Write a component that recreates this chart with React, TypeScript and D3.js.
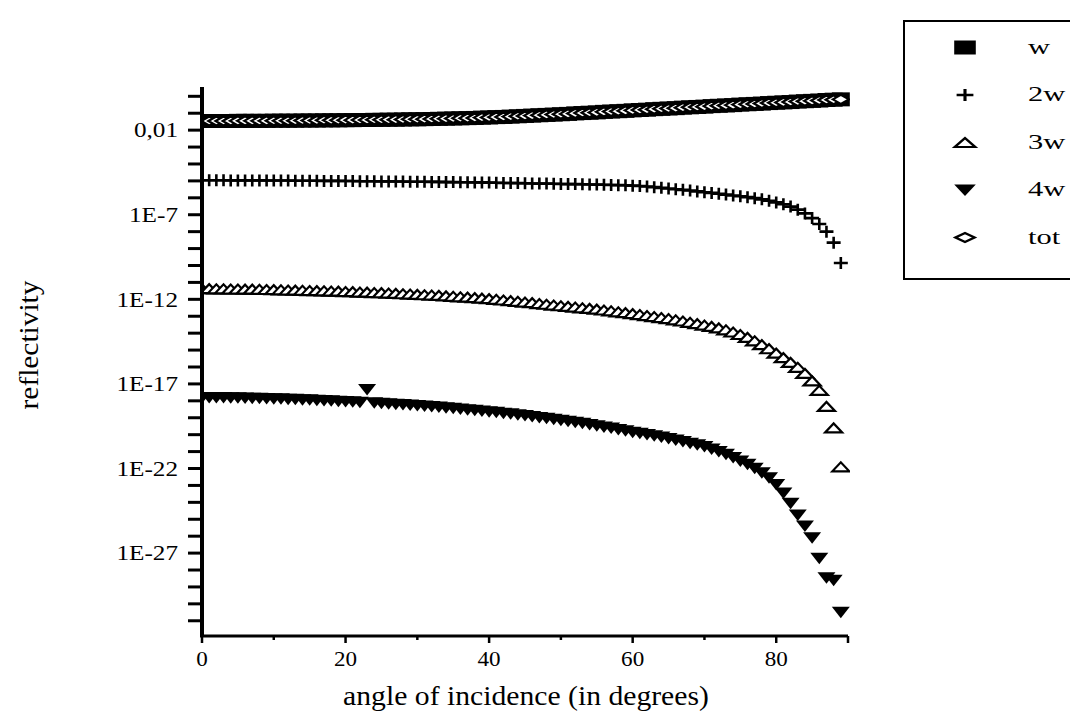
// Reflectivity vs. angle of incidence - log-scale scatter of harmonic orders

import { useEffect, useRef } from "react";
import * as d3 from "d3";

// angles (degrees)
const angles = [
  0, 1, 2, 3, 4, 5, 6, 7, 8, 9, 10, 11, 12, 13, 14, 15, 16, 17, 18, 19,
  20, 21, 22, 23, 24, 25, 26, 27, 28, 29, 30, 31, 32, 33, 34, 35, 36, 37, 38, 39,
  40, 41, 42, 43, 44, 45, 46, 47, 48, 49, 50, 51, 52, 53, 54, 55, 56, 57, 58, 59,
  60, 61, 62, 63, 64, 65, 66, 67, 68, 69, 70, 71, 72, 73, 74, 75, 76, 77, 78, 79,
  80, 81, 82, 83, 84, 85, 86, 87, 88, 89,
];

// log10 of reflectivity
const wLog = [
  -1.46, -1.46, -1.46, -1.46, -1.46, -1.45, -1.45, -1.45, -1.45, -1.45,
  -1.44, -1.44, -1.44, -1.44, -1.43, -1.43, -1.43, -1.42, -1.42, -1.42,
  -1.41, -1.41, -1.4, -1.4, -1.39, -1.39, -1.38, -1.38, -1.37, -1.36,
  -1.36, -1.35, -1.34, -1.33, -1.32, -1.31, -1.3, -1.29, -1.28, -1.26,
  -1.25, -1.23, -1.22, -1.2, -1.18, -1.16, -1.14, -1.12, -1.1, -1.08,
  -1.06, -1.04, -1.01, -0.99, -0.97, -0.95, -0.92, -0.9, -0.88, -0.86,
  -0.83, -0.81, -0.79, -0.76, -0.74, -0.72, -0.7, -0.67, -0.65, -0.63,
  -0.61, -0.58, -0.56, -0.54, -0.52, -0.49, -0.47, -0.45, -0.43, -0.4,
  -0.38, -0.36, -0.34, -0.31, -0.29, -0.27, -0.25, -0.22, -0.2, -0.18,
];

const w2Log = [
  -4.96, -4.96, -4.96, -4.96, -4.97, -4.97, -4.97, -4.97, -4.97, -4.98,
  -4.98, -4.98, -4.98, -4.99, -4.99, -4.99, -4.99, -5.0, -5.0, -5.0,
  -5.01, -5.01, -5.02, -5.02, -5.02, -5.03, -5.03, -5.04, -5.04, -5.05,
  -5.05, -5.05, -5.06, -5.06, -5.07, -5.07, -5.08, -5.08, -5.09, -5.09,
  -5.1, -5.11, -5.12, -5.12, -5.13, -5.14, -5.15, -5.16, -5.16, -5.17,
  -5.18, -5.19, -5.19, -5.2, -5.21, -5.22, -5.23, -5.24, -5.25, -5.26,
  -5.28, -5.3, -5.33, -5.37, -5.41, -5.45, -5.49, -5.53, -5.57, -5.62,
  -5.67, -5.71, -5.76, -5.81, -5.86, -5.91, -5.96, -6.02, -6.09, -6.17,
  -6.27, -6.38, -6.52, -6.7, -6.92, -7.2, -7.55, -8.0, -8.65, -9.85,
];

const w3Log = [
  -11.37, -11.37, -11.38, -11.38, -11.39, -11.39, -11.4, -11.4, -11.41, -11.42,
  -11.43, -11.44, -11.45, -11.46, -11.47, -11.48, -11.49, -11.5, -11.51, -11.52,
  -11.54, -11.55, -11.57, -11.58, -11.6, -11.61, -11.63, -11.65, -11.67, -11.69,
  -11.71, -11.73, -11.75, -11.77, -11.8, -11.82, -11.85, -11.87, -11.9, -11.93,
  -11.96, -12.0, -12.04, -12.08, -12.12, -12.16, -12.2, -12.25, -12.29, -12.34,
  -12.38, -12.42, -12.46, -12.5, -12.54, -12.58, -12.63, -12.68, -12.74, -12.79,
  -12.85, -12.9, -12.96, -13.02, -13.08, -13.14, -13.21, -13.28, -13.36, -13.44,
  -13.52, -13.6, -13.69, -13.8, -13.93, -14.08, -14.25, -14.45, -14.68, -14.92,
  -15.18, -15.45, -15.73, -16.02, -16.38, -16.82, -17.38, -18.33, -19.6, -21.9,
];

const w4Log = [
  -17.8, -17.8, -17.81, -17.81, -17.82, -17.82, -17.83, -17.84, -17.85, -17.86,
  -17.87, -17.88, -17.9, -17.91, -17.93, -17.94, -17.96, -17.98, -18.0, -18.02,
  -18.04, -18.06, -18.08, -17.33, -18.12, -18.15, -18.17, -18.2, -18.22, -18.25,
  -18.28, -18.31, -18.34, -18.37, -18.41, -18.44, -18.48, -18.52, -18.56, -18.6,
  -18.64, -18.68, -18.73, -18.77, -18.82, -18.87, -18.92, -18.98, -19.03, -19.09,
  -19.15, -19.21, -19.27, -19.33, -19.4, -19.47, -19.54, -19.61, -19.69, -19.77,
  -19.85, -19.92, -19.99, -20.06, -20.14, -20.22, -20.31, -20.4, -20.5, -20.6,
  -20.7, -20.85, -21.0, -21.15, -21.35, -21.55, -21.75, -21.98, -22.25, -22.55,
  -22.95, -23.45, -24.05, -24.75, -25.4, -26.1, -27.3, -28.45, -28.6, -30.5,
];

const totLog = [
  -1.46, -1.46, -1.46, -1.46, -1.46, -1.45, -1.45, -1.45, -1.45, -1.45,
  -1.44, -1.44, -1.44, -1.44, -1.43, -1.43, -1.43, -1.42, -1.42, -1.42,
  -1.41, -1.41, -1.4, -1.4, -1.39, -1.39, -1.38, -1.38, -1.37, -1.36,
  -1.36, -1.35, -1.34, -1.33, -1.32, -1.31, -1.3, -1.29, -1.28, -1.26,
  -1.25, -1.23, -1.22, -1.2, -1.18, -1.16, -1.14, -1.12, -1.1, -1.08,
  -1.06, -1.04, -1.01, -0.99, -0.97, -0.95, -0.92, -0.9, -0.88, -0.86,
  -0.83, -0.81, -0.79, -0.76, -0.74, -0.72, -0.7, -0.67, -0.65, -0.63,
  -0.61, -0.58, -0.56, -0.54, -0.52, -0.49, -0.47, -0.45, -0.43, -0.4,
  -0.38, -0.36, -0.34, -0.31, -0.29, -0.27, -0.25, -0.22, -0.2, -0.18,
];

const xTickValues = [0, 10, 20, 30, 40, 50, 60, 70, 80, 90];
const xTickLabels = ["0", "20", "40", "60", "80"];
const yTickValues = [1e-2, 1e-7, 1e-12, 1e-17, 1e-22, 1e-27];
const yTickLabels = ["0,01", "1E-7", "1E-12", "1E-17", "1E-22", "1E-27"];
const legendLabels = ["w", "2w", "3w", "4w", "tot"];

type Shape = "square" | "plus" | "triUp" | "triDown" | "diamond";

// marker outline centred on 0,0
function markerPath(shape: Shape): string {
  switch (shape) {
    case "square":
      return "M-9,-7H9V7H-9Z";
    case "plus":
      return "M-7,0H7M0,-6V6";
    case "triUp":
      return "M-8.5,4.5L8.5,4.5L0,-4.5Z";
    case "triDown":
      return "M-9,-5.5L9,-5.5L0,6Z";
    case "diamond":
      return "M-8,0L0,-4.5L8,0L0,4.5Z";
  }
}

function styleMarker(sel: any, shape: Shape) {
  if (shape === "square" || shape === "triDown") {
    sel.attr("fill", "#000").attr("stroke", "none");
  } else if (shape === "plus") {
    sel.attr("fill", "none").attr("stroke", "#000").attr("stroke-width", 2.6);
  } else {
    sel.attr("fill", "#fff").attr("stroke", "#000").attr("stroke-width", 2.2);
  }
}

const FONT = "'Liberation Serif', 'Times New Roman', serif";

export default function App() {
  const svgRef = useRef<SVGSVGElement>(null);

  useEffect(() => {
    if (!svgRef.current) return;
    const svg = d3.select(svgRef.current);
    svg.selectAll("*").remove();

    const left = 202;
    const right = 848;
    const top = 87;
    const bottom = 636;

    const x = d3.scaleLinear().domain([0, 90]).range([left, right]);
    const y = d3
      .scaleLog()
      .domain([Math.pow(10, -31.9), Math.pow(10, 0.55)])
      .range([bottom, top]);

    const series: { name: string; values: number[]; shape: Shape }[] = [
      { name: "w", values: wLog, shape: "square" },
      { name: "2w", values: w2Log, shape: "plus" },
      { name: "3w", values: w3Log, shape: "triUp" },
      { name: "4w", values: w4Log, shape: "triDown" },
      { name: "tot", values: totLog, shape: "diamond" },
    ];

    // clip to plot area
    svg
      .append("defs")
      .append("clipPath")
      .attr("id", "plot-clip")
      .append("rect")
      .attr("x", left + 2)
      .attr("y", top - 10)
      .attr("width", right - left)
      .attr("height", bottom - top + 10);

    const plot = svg.append("g").attr("clip-path", "url(#plot-clip)");

    series.forEach((s) => {
      const pts = angles.map((a, i) => [a, Math.pow(10, s.values[i])]);
      const marks = plot
        .append("g")
        .selectAll("path")
        .data(pts)
        .join("path")
        .attr("transform", (d) => `translate(${x(d[0])},${y(d[1])})`)
        .attr("d", markerPath(s.shape));
      styleMarker(marks, s.shape);
    });

    // Y axis
    const yAxis = svg.append("g");
    d3.range(-31, 1).forEach((k) => {
      yAxis
        .append("line")
        .attr("x1", left - 14)
        .attr("x2", left)
        .attr("y1", y(Math.pow(10, k)))
        .attr("y2", y(Math.pow(10, k)))
        .attr("stroke", "#000")
        .attr("stroke-width", 3);
    });
    yAxis
      .append("line")
      .attr("x1", left)
      .attr("x2", left)
      .attr("y1", top)
      .attr("y2", bottom)
      .attr("stroke", "#000")
      .attr("stroke-width", 4);
    yTickValues.forEach((v, i) => {
      yAxis
        .append("text")
        .attr("transform", `translate(178,${y(v)}) scale(1.2,1)`)
        .attr("dy", "0.35em")
        .attr("text-anchor", "end")
        .style("font-family", FONT)
        .style("font-size", "21px")
        .text(yTickLabels[i]);
    });

    // X axis
    const xAxis = svg.append("g");
    xAxis
      .append("line")
      .attr("x1", left - 2)
      .attr("x2", right)
      .attr("y1", bottom)
      .attr("y2", bottom)
      .attr("stroke", "#000")
      .attr("stroke-width", 3);
    xTickValues.forEach((v) => {
      const major = v % 20 === 0 || v === 90;
      xAxis
        .append("line")
        .attr("x1", x(v))
        .attr("x2", x(v))
        .attr("y1", bottom)
        .attr("y2", bottom + (major ? 7 : 4))
        .attr("stroke", "#000")
        .attr("stroke-width", 2.5);
    });
    xTickLabels.forEach((lbl) => {
      xAxis
        .append("text")
        .attr("transform", `translate(${x(+lbl)},666) scale(1.1,1)`)
        .attr("text-anchor", "middle")
        .style("font-family", FONT)
        .style("font-size", "21px")
        .text(lbl);
    });

    // axis titles
    svg
      .append("text")
      .attr("transform", "translate(526,705) scale(1.06,1)")
      .attr("text-anchor", "middle")
      .style("font-family", FONT)
      .style("font-size", "28px")
      .text("angle of incidence (in degrees)");
    svg
      .append("text")
      .attr("transform", "translate(38,345) rotate(-90) scale(1.05,1)")
      .attr("text-anchor", "middle")
      .style("font-family", FONT)
      .style("font-size", "28px")
      .text("reflectivity");

    // legend
    const legend = svg.append("g");
    legend
      .append("rect")
      .attr("x", 904)
      .attr("y", 21)
      .attr("width", 200)
      .attr("height", 258)
      .attr("fill", "none")
      .attr("stroke", "#000")
      .attr("stroke-width", 2);
    const legendShapes: Shape[] = ["square", "plus", "triUp", "triDown", "diamond"];
    legendLabels.forEach((lbl, i) => {
      const base = 53.5 + i * 47.5;
      const m = legend
        .append("path")
        .attr("transform", `translate(965,${base - 6}) scale(1.2,1)`)
        .attr("d", markerPath(legendShapes[i]));
      styleMarker(m, legendShapes[i]);
      legend
        .append("text")
        .attr("transform", `translate(1028,${base}) scale(1.45,1)`)
        .style("font-family", FONT)
        .style("font-size", "21px")
        .text(lbl);
    });
  }, []);

  return (
    <svg
      ref={svgRef}
      width={1070}
      height={723}
      style={{ position: "absolute", left: 0, top: 0, background: "#fff" }}
    />
  );
}
